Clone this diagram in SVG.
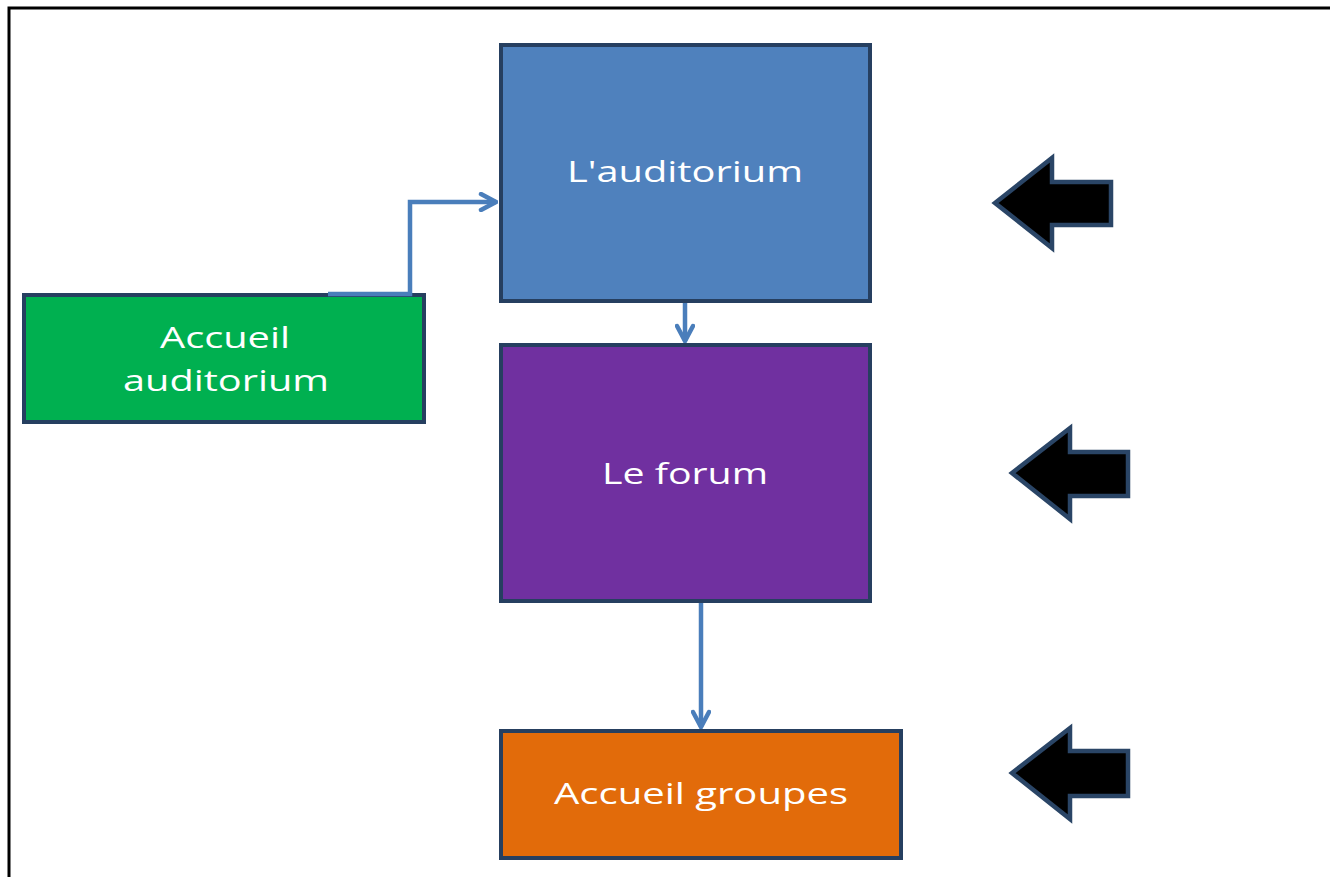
<svg xmlns="http://www.w3.org/2000/svg" width="1330" height="877" viewBox="0 0 1330 877">
<defs>
<style>
.box{stroke:#263F60;stroke-width:4}
.lbl{fill:#FFFFFF;font-family:"Open Sans","Liberation Sans",sans-serif;font-size:30px;text-anchor:middle}
.conn{fill:none;stroke:#4A7EBB;stroke-width:4.5}
.blk{fill:#000000;stroke:#2A4566;stroke-width:4.5;stroke-linejoin:miter}
</style>
<marker id="chev" viewBox="0 0 20 20" refX="18" refY="10" markerWidth="20" markerHeight="20" markerUnits="userSpaceOnUse" orient="auto">
<path d="M3,2 L18,10 L3,18" fill="none" stroke="#4A7EBB" stroke-width="4.5" stroke-linecap="round" stroke-linejoin="miter"/>
</marker>
</defs>
<rect width="1330" height="877" fill="#FFFFFF"/>
<path d="M9,877 L9,8 L1330,8" fill="none" stroke="#000000" stroke-width="3"/>
<g id="n-auditorium">
<rect class="box" x="501" y="45" width="369" height="256" fill="#4F81BD"/>
<text class="lbl" x="685" y="182" textLength="236" lengthAdjust="spacingAndGlyphs">L'auditorium</text>
</g>
<g id="n-forum">
<rect class="box" x="501" y="345" width="369" height="256" fill="#7030A0"/>
<text class="lbl" x="685" y="484" textLength="166" lengthAdjust="spacingAndGlyphs">Le forum</text>
</g>
<g id="n-accueil-groupes">
<rect class="box" x="501" y="731" width="400" height="127" fill="#E26B0A"/>
<text class="lbl" x="701" y="804" textLength="294" lengthAdjust="spacingAndGlyphs">Accueil groupes</text>
</g>
<g id="n-accueil-auditorium">
<rect class="box" x="24" y="295" width="400" height="127" fill="#00B050"/>
<text class="lbl" x="225" y="348" textLength="130" lengthAdjust="spacingAndGlyphs">Accueil</text>
<text class="lbl" x="226" y="391" textLength="206" lengthAdjust="spacingAndGlyphs">auditorium</text>
</g>
<g id="connectors">
<path class="conn" d="M328,294 L410,294 L410,202 L496,202" marker-end="url(#chev)"/>
<path class="conn" d="M685,303 L685,341" marker-end="url(#chev)"/>
<path class="conn" d="M701,603 L701,727" marker-end="url(#chev)"/>
</g>
<g id="block-arrows">
<path class="blk" d="M995,203 L1052,158 L1052,182 L1111,182 L1111,225 L1052,225 L1052,248 Z"/>
<path class="blk" d="M1012,473 L1070,428 L1070,452 L1128,452 L1128,496 L1070,496 L1070,519 Z"/>
<path class="blk" d="M1012,773 L1070,728 L1070,751 L1128,751 L1128,796 L1070,796 L1070,819 Z"/>
</g>
</svg>
